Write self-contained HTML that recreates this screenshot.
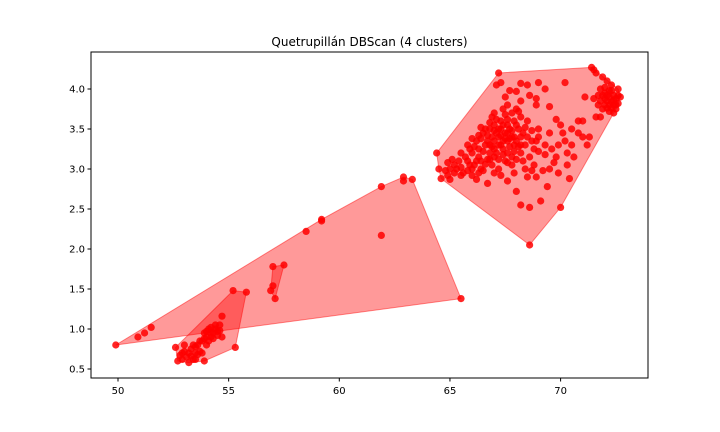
<!DOCTYPE html>
<html><head><meta charset="utf-8"><style>
body{margin:0;background:#fff;}
svg{display:block;font-family:"DejaVu Sans","Liberation Sans",sans-serif;}
</style></head><body>
<svg id="chart" width="720" height="432" viewBox="0 0 720 432" xmlns="http://www.w3.org/2000/svg">
<rect width="720" height="432" fill="#fff"/>
<text x="369.5" y="46" text-anchor="middle" font-size="12">Quetrupillán DBScan (4 clusters)</text>
<g id="hulls"></g><g id="pts"></g><g id="axes"></g>
</svg>
<script>
const xTicks=[50,55,60,65,70];
const yTicks=[0.5,1.0,1.5,2.0,2.5,3.0,3.5,4.0];
const clusterA=[[64.4,3.2],[67.2,4.2],[71.4,4.27],[71.5,4.24],[72.6,4.0],[72.5,3.75],[68.6,2.05],[64.6,2.88],[64.5,3.0],
[67.3,4.08],[67.1,4.05],[68.2,4.07],[68.5,4.05],[69.0,4.08],[67.7,3.98],[68.0,3.97],[67.5,3.9],[68.6,3.92],[68.9,3.88],[69.3,4.0],[70.2,4.08],[68.2,3.85],[67.6,3.8],[68.0,3.75],[68.9,3.8],[69.5,3.78],[70.0,3.55],[70.5,3.5],[71,3.6],[71.6,3.65],[70.8,3.45],[71.2,3.3],[71.0,3.4],[69.8,3.62],[69.5,3.45],[70.2,3.35],[70.6,3.15],[69.8,3.15],[70.3,3.05],[69.0,3.5],[69.3,3.3],[69.5,3.0],[69.2,2.98],[68.8,3.05],[68.4,3.0],[68.5,2.9],[67.9,2.95],[67.6,2.85],[68.0,2.72],[68.6,2.52],[69.1,2.6],[68.2,2.55],[69.4,2.78],[70.0,2.52],[70.4,2.88],[67.3,2.92],[66.5,2.98],[66.7,2.82],[66.2,2.87],[65.0,2.87],[64.8,2.98],[65.5,3.02],[65.2,3.05],[65.8,3.1],[66.0,3.0],[66.3,3.15],[66.8,3.2],[66.6,3.3],[66.9,3.4],[67.2,3.5],[67.4,3.55],[67.0,3.55],[67.5,3.45],[67.8,3.4],[68.1,3.5],[68.3,3.45],[67.9,3.3],[67.3,3.3],[67.1,3.2],[67.6,3.2],[66.9,3.05],[67.5,3.1],[68.2,3.2],[68.7,3.35],[68.5,3.6],[68.2,3.65],[67.9,3.6],[66.5,3.45],[66.2,3.35],[65.9,3.25],[66.4,3.1],[65.6,2.95],[67.7,3.5],[68.0,3.35],[67.0,3.35],[66.6,3.5],[66.8,3.58],[67.6,3.62],[69.3,3.18],[69.0,3.22],[68.9,3.35],[70.8,3.6],[71.3,3.4],[70.5,3.3],[67.0,3.7],[67.4,3.75],
[67.2,3.4],[67.4,3.25],[67.8,3.15],[66.9,3.28],[66.3,3.25],[66.0,3.2],[65.4,3.1],[67.6,3.35],[67.3,3.6],[68.4,3.3],[66.7,3.12],
[66.1,3.28],[66.4,3.38],[66.7,3.42],[66.8,3.5],[67.1,3.45],[67.3,3.42],[67.5,3.38],[67.7,3.28],[67.9,3.22],[68.1,3.28],[68.2,3.4],[68.4,3.52],[68.0,3.55],[67.8,3.48],[67.6,3.55],[67.3,3.5],[67.0,3.48],[66.7,3.35],[66.5,3.22],[66.2,3.1],[65.9,3.05],[65.7,3.15],[65.3,3.0],[65.0,3.0],[64.9,2.92],[65.2,2.95],[65.5,2.92],[65.8,2.98],[66.1,3.05],[66.4,3.0],[66.6,3.06],[66.8,3.12],[67.0,3.15],[67.2,3.12],[67.4,3.18],[67.6,3.08],[67.8,3.05],[68.0,3.12],[68.3,3.1],[68.6,3.15],[68.8,3.25],[69.0,3.4],[68.7,3.48],[68.5,3.4],[67.1,3.62],[67.5,3.68],[67.8,3.7],[68.1,3.72],[66.9,3.65],[66.4,3.52],[66.3,3.42],[66.0,3.38],[65.8,3.3],[65.5,3.2],[65.1,3.12],[64.9,3.08],[67.2,3.3],[67.0,3.25],[66.8,3.3],[67.6,3.45],[67.9,3.4],[68.2,3.3],[67.4,3.35],[67.7,3.38],[69.6,3.25],[69.9,3.3],[70.1,3.45],[70.3,3.2],[69.7,3.08],[69.9,2.95],[68.9,2.9],[68.7,2.98],[66.3,2.95],[66.0,2.92],[67.0,2.95],[67.2,3.0],
[71.6,4.2],[71.9,4.15],[72.1,4.1],[72.3,4.05],[71.8,4.0],[72.0,3.95],[72.2,3.9],[72.5,3.88],[72.4,3.8],[72.1,3.85],[71.8,3.85],[71.5,3.88],[71.9,3.75],[72.2,3.72],[72.6,3.82],[72.7,3.9],[71.7,3.92],[72.3,3.98],[72.0,3.8],[72.4,3.7],[71.1,3.9],[71.8,3.65],
[72.0,3.88],[72.2,3.8],[72.4,3.92],[72.1,3.76],[71.9,3.92],[72.3,3.84],[72.5,3.8],[72.2,3.98],[72.0,4.02],[71.7,3.8],[72.6,3.92],[72.4,3.86],[72.1,3.92],[72.3,3.76]];
const clusterB=[[49.9,0.8],[50.9,0.9],[51.2,0.95],[51.5,1.02],[58.5,2.22],[59.2,2.35],[59.2,2.37],[61.9,2.78],[61.9,2.17],[62.9,2.9],[62.9,2.85],[63.3,2.87],[65.5,1.38]];
const clusterC=[[52.6,0.77],[52.7,0.6],[53.2,0.58],[53.4,0.62],[53.9,0.6],[55.3,0.77],[55.2,1.48],[55.8,1.46],[54.7,1.16],[52.9,0.7],[53.0,0.8],[53.3,0.75],[53.5,0.7],[53.6,0.8],[53.8,0.85],[54.0,0.9],[54.2,0.95],[54.4,1.0],[54.6,0.98],[54.3,0.88],[54.1,1.0],[53.9,0.95],[54.5,0.92],[54.7,0.9],[53.7,0.72],[53.1,0.65],[52.9,0.62],[53.4,0.8],[54.0,0.8],[53.8,0.7],[54.2,1.02],[54.6,1.05],
[53.2,0.7],[53.5,0.78],[53.0,0.72],[53.3,0.66],[53.6,0.68],[53.7,0.85],[54.1,0.85],[54.3,0.95],[54.4,1.05],[54.5,0.97],[54.2,0.9],[53.9,0.88],[54.0,0.97],[53.5,0.62],[52.8,0.67]];
const clusterD=[[56.9,1.48],[57.0,1.78],[57.5,1.8],[57.1,1.38],[57.0,1.54]];
const clusters=[clusterA,clusterB,clusterC,clusterD];
const L=91,R=648,T=52,B=378;
const sx=v=>118+(v-50)*22.13;
const sy=v=>369-(v-0.5)*80;
const NS="http://www.w3.org/2000/svg";
function mk(tag,at,parent){const e=document.createElementNS(NS,tag);for(const k in at)e.setAttribute(k,at[k]);parent.appendChild(e);return e;}
function hull(p){p=p.slice().sort((a,b)=>a[0]-b[0]||a[1]-b[1]);const cr=(o,a,b)=>(a[0]-o[0])*(b[1]-o[1])-(a[1]-o[1])*(b[0]-o[0]);const lo=[],up=[];
for(const q of p){while(lo.length>=2&&cr(lo[lo.length-2],lo[lo.length-1],q)<=0)lo.pop();lo.push(q);}
for(const q of p.slice().reverse()){while(up.length>=2&&cr(up[up.length-2],up[up.length-1],q)<=0)up.pop();up.push(q);}
lo.pop();up.pop();return lo.concat(up);}
const hg=document.getElementById('hulls'),pg=document.getElementById('pts'),ag=document.getElementById('axes');
clusters.forEach((c,i)=>{
  const h=hull(c);
  const poly=mk('polygon',{points:h.map(p=>sx(p[0])+','+sy(p[1])).join(' '),fill:'rgba(255,0,0,0.4)',stroke:'rgba(255,0,0,0.45)','stroke-width':1},hg);
  
  
  c.forEach(p=>{
    const d=mk('circle',{cx:sx(p[0]),cy:sy(p[1]),r:3.6,fill:'rgba(255,0,0,0.85)'},pg);
    
    
  });
});
const frame=mk('rect',{x:L,y:T,width:R-L,height:B-T,fill:'none',stroke:'#000','stroke-width':1},ag);


xTicks.forEach(t=>{const x=sx(t);mk('line',{x1:x,x2:x,y1:B,y2:B+3.5,stroke:'#000'},ag);
  const tx=mk('text',{x:x,y:B+16,'text-anchor':'middle','font-size':10},ag);tx.textContent=t;
  
  });
yTicks.forEach(t=>{const y=sy(t);mk('line',{x1:L-3.5,x2:L,y1:y,y2:y,stroke:'#000'},ag);
  const tx=mk('text',{x:L-6,y:y+3.5,'text-anchor':'end','font-size':10},ag);tx.textContent=t.toFixed(1);
  
  });
</script>
</body></html>
